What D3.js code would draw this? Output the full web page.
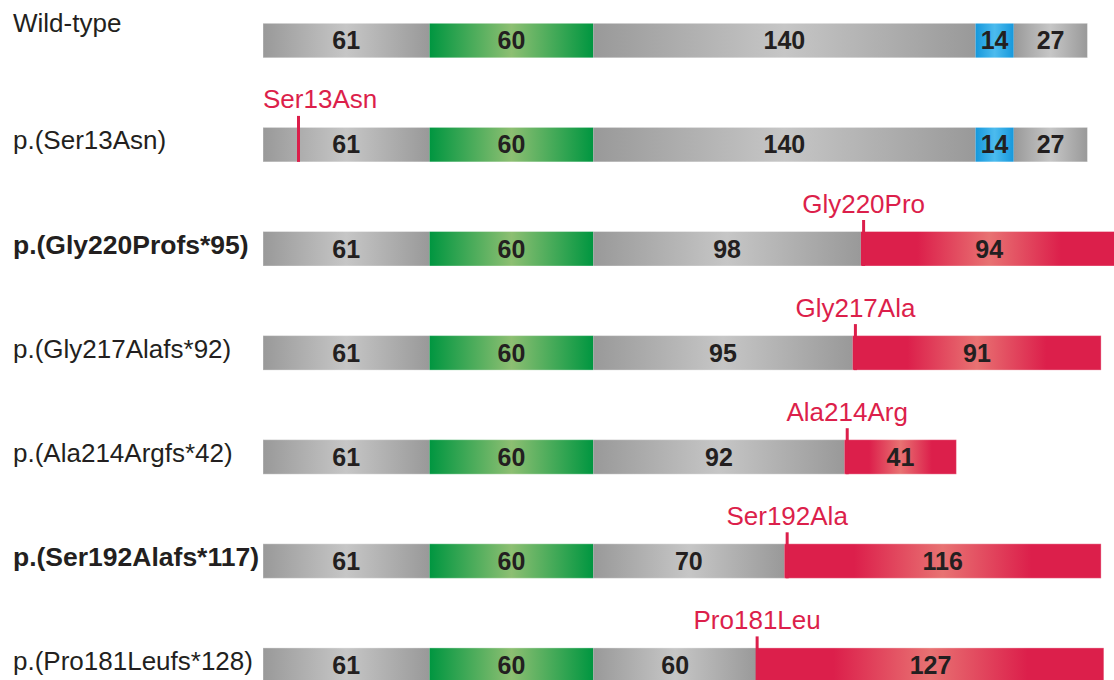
<!DOCTYPE html>
<html>
<head>
<meta charset="utf-8">
<script src="https://cdn.jsdelivr.net/npm/d3@7"></script>
<style>
  body { margin: 0; background: #fff; }
  svg { display: block; font-family: "Liberation Sans", Arial, sans-serif; }
</style>
</head>
<body>
<svg id="chart"></svg>
<script>
// variant names shown on the left
var variants = ['Wild-type', 'p.(Ser13Asn)', 'p.(Gly220Profs*95)', 'p.(Gly217Alafs*92)',
  'p.(Ala214Argfs*42)', 'p.(Ser192Alafs*117)', 'p.(Pro181Leufs*128)'];
var boldVariants = ['p.(Gly220Profs*95)', 'p.(Ser192Alafs*117)'];

// segment lengths (amino acids) and domain type of each segment
var segLengths = [
  [61, 60, 140, 14, 27],
  [61, 60, 140, 14, 27],
  [61, 60, 98, 94],
  [61, 60, 95, 91],
  [61, 60, 92, 41],
  [61, 60, 70, 116],
  [61, 60, 60, 127]
];
var segTypes = [
  ['gray', 'green', 'gray', 'blue', 'gray'],
  ['gray', 'green', 'gray', 'blue', 'gray'],
  ['gray', 'green', 'gray', 'red'],
  ['gray', 'green', 'gray', 'red'],
  ['gray', 'green', 'gray', 'red'],
  ['gray', 'green', 'gray', 'red'],
  ['gray', 'green', 'gray', 'red']
];

// mutation label and residue position (null = none)
var mutNames = [null, 'Ser13Asn', 'Gly220Pro', 'Gly217Ala', 'Ala214Arg', 'Ser192Ala', 'Pro181Leu'];
var mutPos = [null, 13, 220, 217, 214, 192, 181];

var width = 1114, height = 680;
var barH = 34.5;
var textColor = '#231f20';
var mutColor = '#dc1f4b';

var colors = {
  gray:  { edge: '#999999', mid: '#c6c6c6' },
  green: { edge: '#009640', mid: '#8dbf72' },
  blue:  { edge: '#1698dc', mid: '#4cbbee' },
  red:   { edge: '#dc1f4b', mid: '#e87272' }
};

var svg = d3.select('#chart')
  .attr('width', width)
  .attr('height', height);

var defs = svg.append('defs');
Object.keys(colors).forEach(function (k) {
  var c = colors[k];
  var g = defs.append('linearGradient')
    .attr('id', 'grad-' + k)
    .attr('x1', 0).attr('x2', 1).attr('y1', 0).attr('y2', 0);
  var stops = k === 'red'
    ? [[0, c.edge], [0.22, c.edge], [0.5, c.mid], [0.78, c.edge], [1, c.edge]]
    : [[0, c.edge], [0.5, c.mid], [1, c.edge]];
  stops.forEach(function (s) {
    g.append('stop').attr('offset', s[0]).attr('stop-color', s[1]);
  });
});

// residue -> pixel
var x = d3.scaleLinear().domain([0, 302]).range([263, 263 + 302 * 2.73]);
// row index -> bar top
var y = d3.scaleLinear().domain([0, 1]).range([23.3, 127.4]);

var rows = svg.selectAll('g.row')
  .data(variants)
  .enter()
  .append('g')
  .attr('class', 'row')
  .attr('transform', function (d, i) { return 'translate(0,' + y(i) + ')'; });

// left labels
rows.append('text')
  .attr('x', 13)
  .attr('y', function (d, i) { return i === 0 ? 9 : 22; })
  .attr('font-size', function (d) { return boldVariants.indexOf(d) >= 0 ? 26.5 : 26; })
  .attr('font-weight', function (d) { return boldVariants.indexOf(d) >= 0 ? 'bold' : 'normal'; })
  .attr('fill', textColor)
  .text(function (d) { return d; });

// segments
rows.each(function (d, i) {
  var g = d3.select(this);
  var start = 0;
  var segs = segLengths[i].map(function (len, j) {
    var s = { start: start, len: len, type: segTypes[i][j] };
    start += len;
    return s;
  });

  g.selectAll('rect.seg')
    .data(segs)
    .enter()
    .append('rect')
    .attr('class', 'seg')
    .attr('x', function (s) { return x(s.start); })
    .attr('y', 0)
    .attr('width', function (s) { return x(s.start + s.len) - x(s.start); })
    .attr('height', barH)
    .attr('fill', function (s) { return 'url(#grad-' + s.type + ')'; });

  g.append('rect')
    .attr('x', x(0))
    .attr('y', 0)
    .attr('width', x(start) - x(0))
    .attr('height', barH)
    .attr('fill', 'none')
    .attr('stroke', '#ffffff')
    .attr('stroke-opacity', 0.35)
    .attr('stroke-width', 1);

  g.selectAll('text.num')
    .data(segs)
    .enter()
    .append('text')
    .attr('class', 'num')
    .attr('x', function (s) { return x(s.start + s.len / 2); })
    .attr('y', barH / 2 + 8.8)
    .attr('text-anchor', 'middle')
    .attr('font-size', 25)
    .attr('font-weight', 'bold')
    .attr('fill', textColor)
    .text(function (s) { return s.len; });

  // mutation marker
  if (mutNames[i]) {
    var mx = x(mutPos[i]);
    g.append('line')
      .attr('x1', mx).attr('x2', mx)
      .attr('y1', -11.5).attr('y2', barH)
      .attr('stroke', mutColor)
      .attr('stroke-width', 3);
    var lbl = g.append('text')
      .attr('y', -19)
      .attr('font-size', 26)
      .attr('fill', mutColor)
      .attr('text-anchor', 'middle')
      .text(mutNames[i]);
    var w = lbl.node().getComputedTextLength();
    lbl.attr('x', Math.max(mx, x(0) + w / 2));
  }
});
</script>
</body>
</html>
